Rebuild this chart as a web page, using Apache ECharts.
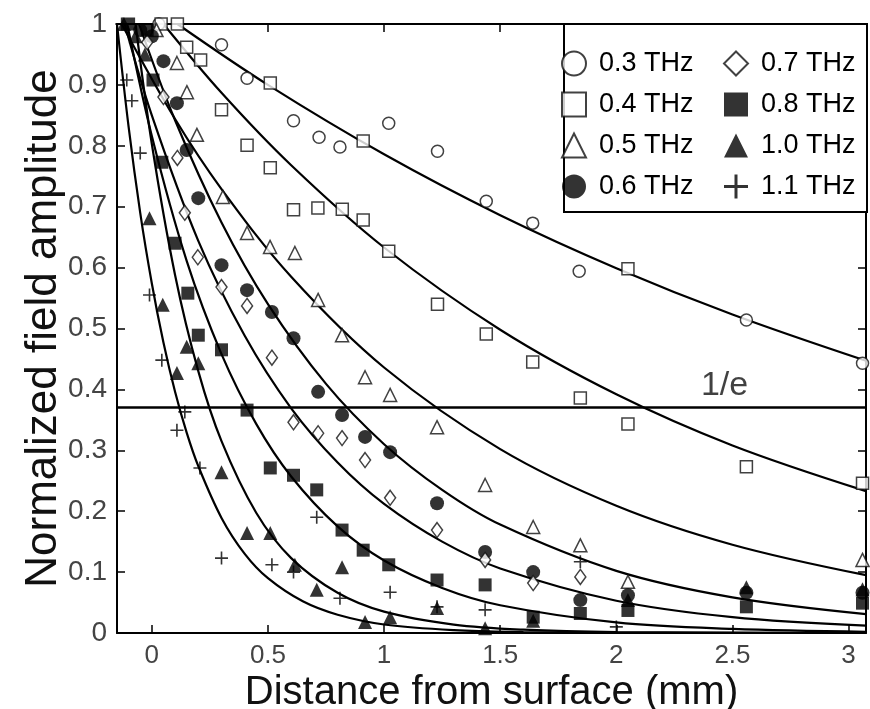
<!DOCTYPE html>
<html><head><meta charset="utf-8">
<script src="https://cdn.jsdelivr.net/npm/echarts@6/dist/echarts.min.js"></script>
<style>html,body{margin:0;padding:0;background:#fff}#c{width:870px;height:709px}</style>
</head><body><div id="c"></div>
<script>
// ---- data ----
const freqNames = ['0.3 THz','0.4 THz','0.5 THz','0.6 THz','0.7 THz','0.8 THz','1.0 THz','1.1 THz'];
const xTickValues = [0, 0.5, 1, 1.5, 2, 2.5, 3];
const xRange = [-0.15, 3.075];
const yRange = [0, 1];
const oneOverE = 0.368;
const oneOverELabelX = 2.466;

const pts03 = [[0.03,1.0],[0.30,0.966],[0.41,0.911],[0.61,0.841],[0.72,0.814],[0.81,0.798],[1.02,0.837],[1.23,0.791],[1.44,0.709],[1.64,0.673],[1.84,0.594],[2.56,0.514],[3.06,0.443]];
const pts04 = [[0.04,1.0],[0.11,1.0],[0.15,0.962],[0.21,0.941],[0.30,0.859],[0.41,0.801],[0.51,0.903],[0.51,0.764],[0.61,0.695],[0.715,0.698],[0.82,0.696],[0.91,0.808],[0.91,0.678],[1.02,0.627],[1.23,0.540],[1.44,0.491],[1.64,0.445],[1.845,0.386],[2.05,0.598],[2.05,0.343],[2.56,0.273],[3.06,0.246]];
const pts05 = [[0.02,0.99],[0.108,0.936],[0.151,0.888],[0.194,0.818],[0.306,0.716],[0.41,0.657],[0.509,0.634],[0.616,0.624],[0.716,0.547],[0.819,0.489],[0.918,0.420],[1.026,0.391],[1.228,0.338],[1.435,0.243],[1.642,0.174],[1.845,0.144],[2.05,0.084],[3.06,0.12]];
const pts06 = [[-0.05,0.99],[0.0,0.98],[0.05,0.939],[0.108,0.87],[0.15,0.793],[0.2,0.714],[0.30,0.604],[0.41,0.563],[0.517,0.527],[0.61,0.484],[0.716,0.396],[0.819,0.358],[0.918,0.322],[1.026,0.297],[1.228,0.213],[1.435,0.133],[1.642,0.1],[1.845,0.054],[2.05,0.062],[2.56,0.066],[3.06,0.066]];
const pts07 = [[-0.02,0.97],[0.05,0.88],[0.11,0.78],[0.142,0.69],[0.198,0.617],[0.30,0.568],[0.41,0.537],[0.517,0.452],[0.61,0.346],[0.716,0.328],[0.819,0.32],[0.918,0.284],[1.026,0.222],[1.228,0.169],[1.435,0.12],[1.642,0.082],[1.845,0.092]];
const pts08 = [[-0.1,1.0],[-0.02,0.99],[0.005,0.908],[0.043,0.773],[0.1,0.64],[0.155,0.558],[0.2,0.489],[0.30,0.465],[0.41,0.366],[0.51,0.271],[0.61,0.259],[0.71,0.235],[0.819,0.169],[0.91,0.136],[1.02,0.112],[1.228,0.087],[1.435,0.079],[1.642,0.026],[1.845,0.032],[2.05,0.037],[2.56,0.043],[3.06,0.049]];
const pts10 = [[-0.12,1.0],[-0.07,0.98],[-0.03,0.95],[-0.01,0.681],[0.047,0.539],[0.108,0.427],[0.15,0.47],[0.2,0.443],[0.30,0.264],[0.41,0.164],[0.51,0.164],[0.616,0.112],[0.71,0.071],[0.819,0.108],[0.918,0.018],[1.026,0.026],[1.228,0.041],[1.435,0.008],[1.642,0.02],[2.05,0.054],[2.56,0.075],[3.06,0.072]];
const pts11 = [[-0.13,1.0],[-0.108,0.908],[-0.086,0.874],[-0.05,0.788],[-0.01,0.555],[0.043,0.448],[0.108,0.333],[0.142,0.363],[0.207,0.271],[0.30,0.123],[0.517,0.112],[0.61,0.1],[0.71,0.19],[0.81,0.057],[1.026,0.067],[1.228,0.043],[1.435,0.038],[1.845,0.117],[2.0,0.01]];

const fit03 = [[0.11,1],[0.5,0.900],[1,0.786],[1.5,0.686],[2,0.599],[2.5,0.523],[3.075,0.447]];
const fit04 = [[0.05,1],[0.3,0.887],[0.6,0.768],[1,0.633],[1.5,0.498],[2,0.392],[2.5,0.308],[3.075,0.233]];
const fit05 = [[-0.13,1],[0.1,0.844],[0.3,0.729],[0.6,0.585],[1,0.436],[1.5,0.302],[2,0.209],[2.5,0.145],[3.075,0.095]];
const fit06 = [[-0.055,1],[0.1,0.842],[0.3,0.674],[0.5,0.540],[0.75,0.409],[1,0.310],[1.25,0.235],[1.5,0.178],[2,0.102],[2.5,0.0585],[3.075,0.031]];
const fit07 = [[-0.117,1],[0,0.850],[0.2,0.644],[0.4,0.488],[0.6,0.369],[0.8,0.280],[1,0.212],[1.25,0.150],[1.5,0.106],[2,0.053],[2.5,0.026],[3.075,0.012]];
const fit08 = [[-0.106,1],[0,0.816],[0.15,0.611],[0.3,0.458],[0.45,0.343],[0.6,0.257],[0.8,0.175],[1,0.119],[1.25,0.074],[1.5,0.0456],[2,0.0174],[2.5,0.0067],[3.075,0.002]];
const fit10 = [[-0.07,1],[0,0.803],[0.1,0.588],[0.2,0.430],[0.3,0.315],[0.45,0.197],[0.6,0.123],[0.8,0.066],[1,0.035],[1.3,0.0138],[1.6,0.0054],[2,0.0016],[3.075,0]];
const fit11 = [[-0.15,1],[-0.1,0.831],[-0.05,0.690],[0,0.574],[0.05,0.477],[0.1,0.396],[0.15,0.329],[0.2,0.274],[0.3,0.189],[0.4,0.130],[0.5,0.090],[0.65,0.052],[0.8,0.030],[1,0.014],[1.3,0.0047],[1.6,0.0016],[2,0.0003],[3.075,0]];

// ---- styling ----
const FONT = "'Liberation Sans', Arial, sans-serif";
const PLUS = 'path://M7,0h2v16h-2z M0,7h16v2h-16z';
const openStyle = {color:'#fff', borderColor:'#111', borderWidth:1.5};
const fillStyle = {color:'#000', borderColor:'#000', borderWidth:0};
const markerDefs = [
  {pts:pts03, fit:fit03, symbol:'circle', size:12, style:openStyle},
  {pts:pts04, fit:fit04, symbol:'rect', size:12, style:openStyle},
  {pts:pts05, fit:fit05, symbol:'triangle', size:13, style:openStyle},
  {pts:pts06, fit:fit06, symbol:'circle', size:14, style:fillStyle},
  {pts:pts07, fit:fit07, symbol:'diamond', size:[11,15], style:openStyle},
  {pts:pts08, fit:fit08, symbol:'rect', size:13, style:fillStyle},
  {pts:pts10, fit:fit10, symbol:'triangle', size:14, style:fillStyle},
  {pts:pts11, fit:fit11, symbol:PLUS, size:13, style:fillStyle}
];

const series = [];
markerDefs.forEach((m, i) => {
  series.push({
    name: 'fit ' + freqNames[i], type:'line', data: m.fit, showSymbol:false, smooth:0.35,
    lineStyle:{color:'#000', width:2.2}, z:2, silent:true, clip:true
  });
});
markerDefs.forEach((m, i) => {
  series.push({
    name: freqNames[i], type:'scatter', data: m.pts, symbol: m.symbol, symbolSize: m.size,
    itemStyle: m.style, z:3, clip:false
  });
});
series.push({
  name:'1/e', type:'scatter', data:[[oneOverELabelX, oneOverE]], symbolSize:0.1, silent:true,
  itemStyle:{color:'transparent'},
  label:{show:true, position:'top', distance:6, formatter:'1/e', fontSize:34, color:'#111', fontFamily:FONT},
  markLine:{silent:true, symbol:['none','none'], label:{show:false}, animation:false,
    lineStyle:{color:'#000', width:2.5, type:'solid'}, data:[{yAxis: oneOverE}]}
});

const legendCommon = {
  orient:'vertical', top:50, padding:0, itemWidth:24, itemHeight:24, itemGap:14, z:10,
  textStyle:{fontSize:27, color:'#000', fontFamily:FONT, lineHeight:24, padding:[0,0,0,8]},
  selectedMode:false
};

const option = {
  animation:false,
  textStyle:{fontFamily:FONT},
  grid:{left:117, right:4, top:24, bottom:76, containLabel:false, outerBoundsMode:'none'},
  legend:[
    Object.assign({}, legendCommon, {left:561, data:freqNames.slice(0,4)}),
    Object.assign({}, legendCommon, {left:723, data:freqNames.slice(4)})
  ],
  graphic:[{type:'rect', left:563, top:23, z:5, shape:{x:0, y:0, width:303, height:188},
    style:{fill:'#fff', stroke:'#000', lineWidth:2}}],
  xAxis:[
    {type:'value', position:'bottom', min:xRange[0], max:xRange[1],
     name:'Distance from surface (mm)', nameLocation:'middle', nameGap:40, nameMoveOverlap:false,
     nameTextStyle:{fontSize:40, color:'#111', fontFamily:FONT},
     axisLine:{onZero:false, lineStyle:{color:'#000', width:2}},
     axisTick:{inside:true, length:8, customValues:xTickValues, lineStyle:{color:'#000', width:1.5}},
     axisLabel:{customValues:xTickValues, fontSize:26, color:'#444', margin:10, formatter:v=>String(v)},
     splitLine:{show:false}},
    {type:'value', position:'top', min:xRange[0], max:xRange[1],
     axisLine:{onZero:false, lineStyle:{color:'#000', width:2}},
     axisTick:{inside:true, length:8, customValues:xTickValues, lineStyle:{color:'#000', width:1.5}},
     axisLabel:{show:false}, splitLine:{show:false}}
  ],
  yAxis:[
    {type:'value', position:'left', min:yRange[0], max:yRange[1], interval:0.1,
     name:'Normalized field amplitude', nameLocation:'middle', nameGap:51, nameRotate:90, nameMoveOverlap:false,
     nameTextStyle:{fontSize:44, color:'#111', fontFamily:FONT},
     axisLine:{onZero:false, lineStyle:{color:'#000', width:2}},
     axisTick:{inside:true, length:8, lineStyle:{color:'#000', width:1.5}},
     axisLabel:{fontSize:28, color:'#444', margin:10, formatter:v=>String(+v.toFixed(1))},
     splitLine:{show:false}},
    {type:'value', position:'right', min:yRange[0], max:yRange[1], interval:0.1,
     axisLine:{onZero:false, lineStyle:{color:'#000', width:2}},
     axisTick:{inside:true, length:8, lineStyle:{color:'#000', width:1.5}},
     axisLabel:{show:false}, splitLine:{show:false}}
  ],
  series: series
};

const chart = echarts.init(document.getElementById('c'), null, {renderer:'canvas'});
chart.setOption(option);
</script>
</body></html>
